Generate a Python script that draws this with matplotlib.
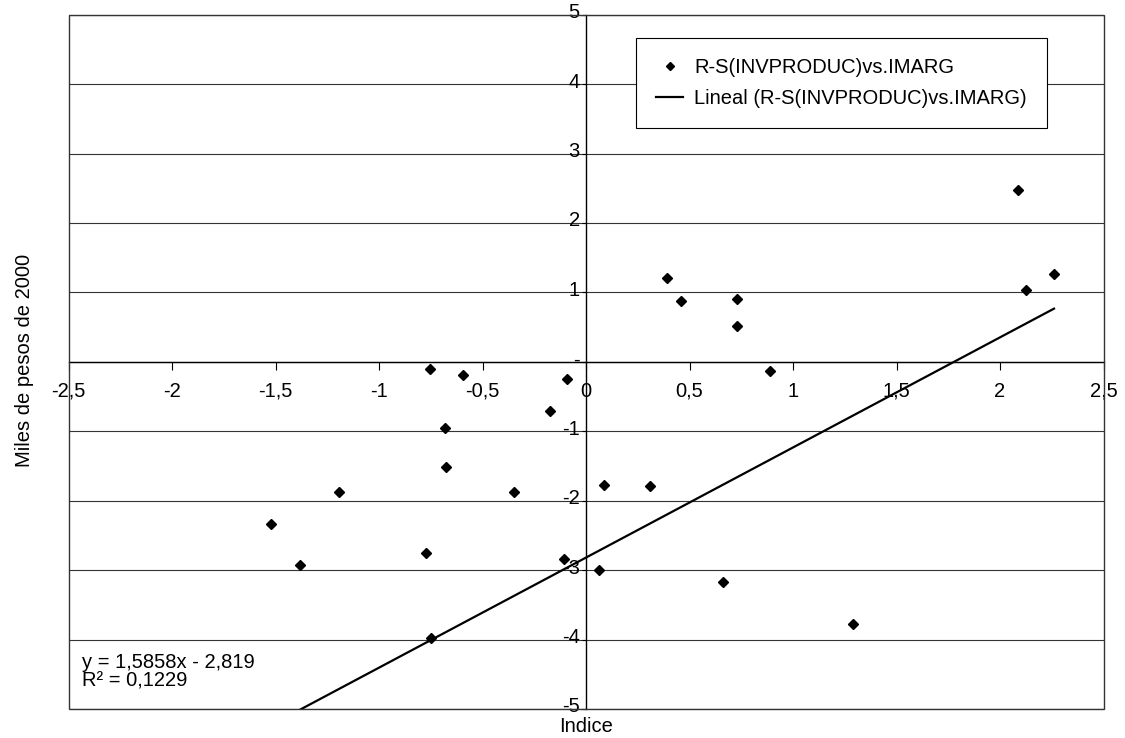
import matplotlib
matplotlib.use("Agg")
import matplotlib.pyplot as plt
from matplotlib.patches import Rectangle
import matplotlib.transforms as mtransforms
import numpy as np

plt.rcParams['font.family'] = ['Liberation Sans', 'DejaVu Sans']

# ---- data ----
indice = [-0.752, -0.596, -0.090, -0.176, -0.680, -0.678, -1.193, -0.348, 0.089,
          -1.520, -1.383, -0.771, -0.106, 0.064, -0.749,
          0.391, 0.457, 0.729, 0.729, 0.887, 2.087, 2.127, 2.261,
          0.308, 0.663, 1.288]
miles = [-0.11, -0.196, -0.245, -0.715, -0.955, -1.52, -1.87, -1.87, -1.78,
         -2.33, -2.92, -2.75, -2.84, -3.00, -3.98,
         1.206, 0.879, 0.908, 0.514, -0.13, 2.478, 1.033, 1.259,
         -1.79, -3.17, -3.77]
trend_slope = 1.5858
trend_intercept = -2.819
r_squared = 0.1229

x_ticks = [-2.5, -2, -1.5, -1, -0.5, 0, 0.5, 1, 1.5, 2, 2.5]
x_tick_labels = ["-2,5", "-2", "-1,5", "-1", "-0,5", "0", "0,5", "1", "1,5", "2", "2,5"]
y_ticks = [-5, -4, -3, -2, -1, 0, 1, 2, 3, 4, 5]
y_tick_labels = ["-5", "-4", "-3", "-2", "-1", "-", "1", "2", "3", "4", "5"]

series_name = "R-S(INVPRODUC)vs.IMARG"
trend_name = "Lineal (R-S(INVPRODUC)vs.IMARG)"

FS = 14.5
W, H = 1125, 738
fig = plt.figure(figsize=(W / 100, H / 100), dpi=100)
L, R, T, B = 68.5, 1103.5, 14.7, 709.0
ax = fig.add_axes([L / W, 1 - B / H, (R - L) / W, (B - T) / H])

ax.set_xlim(-2.5, 2.5)
ax.set_ylim(-5, 5)

# frame
for s in ['top', 'right']:
    ax.spines[s].set_visible(False)
ax.spines['left'].set_position(('data', 0))
ax.spines['bottom'].set_position(('data', 0))
ax.spines['left'].set_color('black')
ax.spines['bottom'].set_color('black')
ax.spines['left'].set_linewidth(1.0)
ax.spines['bottom'].set_linewidth(1.0)
ax.add_patch(Rectangle((0, 0), 1, 1, transform=ax.transAxes, fill=False,
                       edgecolor='#333333', linewidth=1.0, clip_on=False, zorder=5))

ax.set_xticks(x_ticks)
ax.set_xticklabels(x_tick_labels)
ax.set_yticks(y_ticks)
ax.set_yticklabels(y_tick_labels)
ax.tick_params(axis='x', direction='out', length=5.8, width=0.8, pad=8.5, labelsize=FS)
ax.tick_params(axis='y', direction='out', length=3, width=0.8, pad=1.5, labelsize=FS)
shift_up = mtransforms.ScaledTranslation(0, 4 / 100, fig.dpi_scale_trans)
for t in ax.get_yticklabels():
    t.set_zorder(7)
    t.set_transform(t.get_transform() + shift_up)

ax.yaxis.grid(True, color='#333333', linewidth=0.8)
ax.set_axisbelow(True)

# scatter
ax.plot(indice, miles, linestyle='none', marker='D', markersize=5.2,
        color='black', label=series_name, zorder=4)

# linear trend line
xl = np.array([min(indice), max(indice)])
ax.plot(xl, trend_slope * xl + trend_intercept, color='black', linewidth=1.6,
        label=trend_name, zorder=3)

leg = ax.legend(loc='upper left', bbox_to_anchor=(636 / W, 1 - 38 / H),
                bbox_transform=fig.transFigure, borderaxespad=0, fancybox=False,
                edgecolor='black', framealpha=1, fontsize=FS, borderpad=1.0,
                handlelength=1.35, handletextpad=0.55, labelspacing=0.6,
                markerscale=0.75)
leg.get_frame().set_linewidth(0.8)
leg.set_zorder(6)

fig.text(81.7 / W, 1 - 668.3 / H, "y = 1,5858x - 2,819", fontsize=FS, ha='left', va='baseline')
fig.text(81.7 / W, 1 - 686.7 / H, "R² = " + f"{r_squared:.4f}".replace('.', ','),
         fontsize=FS, ha='left', va='baseline')

fig.text(586 / W, 1 - 731.5 / H, "Indice", fontsize=FS, ha='center', va='baseline')
fig.text(25 / W, 1 - 360 / H, "Miles de pesos de 2000", fontsize=FS, ha='center',
         va='center', rotation=90)

fig.savefig("out.png", dpi=100)
